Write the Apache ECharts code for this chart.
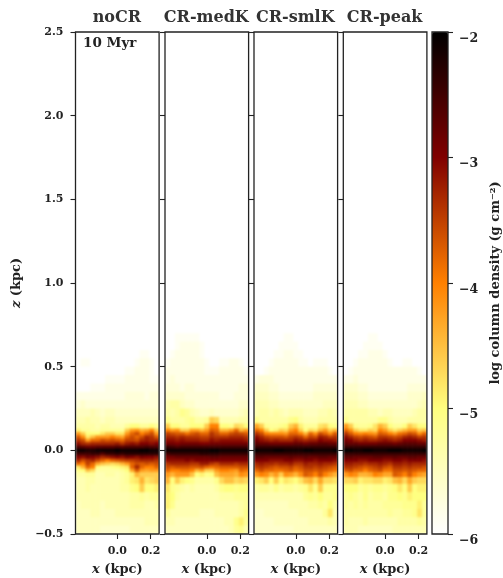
<!DOCTYPE html>
<html><head><meta charset="utf-8">
<style>html,body{margin:0;padding:0;background:#fff}#c{width:503px;height:578px}</style>
<script src="https://cdn.jsdelivr.net/npm/echarts@6/dist/echarts.min.js"></script>
</head><body><div id="c"></div>
<script>
// Column density, stored as -10*log10(Sigma): 60 = -6.0, 20 = -2.0.
// Rows run top-down between successive zEdges; each row has 17 columns across x = -0.25..0.25 kpc.
const panelNames = ['noCR','CR-medK','CR-smlK','CR-peak'];
const zEdges = [0.70,0.65,0.60,0.55,0.50,0.45,0.40,0.35,0.30,0.25,0.20,0.16,0.13,0.11,0.09,0.07,0.05,0.03,0.01,-0.01,-0.03,-0.05,-0.07,-0.09,-0.11,-0.13,-0.16,-0.20,-0.25,-0.30,-0.35,-0.40,-0.45,-0.50];
const yTicks = [-0.5,0,0.5,1,1.5,2,2.5];
const xTicks = [0,0.2];
const cbarTicks = [-6,-5,-4,-3,-2];
const noCR = [
[60,60,60,60,60,60,60,60,60,60,60,60,60,60,60,60,60],
[60,60,60,60,60,60,60,60,60,60,60,60,60,60,60,60,60],
[60,60,60,60,60,60,60,60,60,60,60,60,60,59,59,60,60],
[60,59,59,60,60,60,60,60,60,60,60,60,59,58,58,59,60],
[60,60,60,60,60,60,60,60,60,60,59,59,58,58,58,59,60],
[60,60,60,60,60,60,59,59,59,59,58,58,58,58,58,59,59],
[60,60,60,59,59,59,58,58,58,58,58,58,58,58,58,58,58],
[58,58,58,58,58,58,58,58,58,58,57,57,57,57,58,57,57],
[57,56,57,57,57,57,57,57,57,57,57,57,57,57,57,57,57],
[55,55,55,54,55,56,55,55,56,56,56,56,56,56,56,56,56],
[54,54,53,54,54,55,54,54,55,55,55,55,55,55,55,55,55],
[53,53,53,53,54,53,53,54,54,54,52,50,50,52,52,50,52],
[49,52,52,53,53,52,52,52,52,52,46,42,41,44,43,40,46],
[42,46,50,50,50,48,46,46,48,48,42,38,36,40,38,36,42],
[37,41,48,45,42,42,42,40,42,43,38,36,38,36,33,34,37],
[34,36,42,38,38,36,37,36,37,38,35,35,36,33,32,33,33],
[31,33,34,33,33,33,33,33,32,34,32,31,32,30,30,31,30],
[26,27,28,28,27,27,27,27,26,27,26,26,26,26,25,26,26],
[21,21,22,22,21,21,21,21,20,21,21,21,21,20,20,21,21],
[25,25,25,24,24,26,24,24,23,24,23,23,23,23,23,23,23],
[30,31,29,30,31,33,32,31,30,31,29,30,31,29,30,30,31],
[33,36,34,33,36,38,40,38,37,36,35,35,34,33,33,33,34],
[38,40,35,38,43,45,46,47,46,44,42,38,36,37,36,37,36],
[48,44,38,40,50,52,52,51,50,49,48,38,33,38,40,40,38],
[51,50,45,47,53,53,53,53,53,52,50,43,37,42,43,42,42],
[53,53,52,52,54,54,53,53,54,53,52,49,44,46,46,46,46],
[54,54,53,53,54,54,54,54,54,53,52,49,48,44,48,47,46],
[54,54,53,54,54,54,54,54,54,53,53,51,50,46,50,50,49],
[54,54,54,54,54,54,54,54,54,54,54,53,53,52,53,52,52],
[55,54,54,54,54,55,54,54,54,54,54,53,53,53,54,54,53],
[55,55,55,54,54,55,55,55,54,54,54,54,54,54,54,54,54],
[55,55,55,55,55,55,55,55,55,55,55,55,55,55,54,54,54],
[55,55,55,55,55,56,56,56,56,56,56,55,55,55,55,55,55]];
const medK = [
[60,60,59,59,59,59,59,60,60,60,60,60,60,60,60,60,60],
[60,60,59,58,58,58,58,59,60,60,60,60,60,60,60,60,60],
[60,59,58,58,58,58,58,59,60,60,60,60,60,60,60,60,60],
[59,58,58,58,58,58,58,58,59,60,60,59,59,58,58,59,60],
[58,58,58,58,58,58,58,58,59,59,59,58,58,58,58,58,59],
[58,57,58,58,58,58,58,58,58,58,58,58,58,58,58,58,58],
[57,57,57,58,57,57,58,58,58,58,58,58,58,58,58,57,57],
[56,56,56,56,57,57,57,57,57,57,57,58,58,58,57,57,57],
[54,53,53,55,56,56,57,57,57,57,57,57,57,57,57,56,56],
[53,54,53,51,52,54,55,56,56,55,56,56,56,56,56,55,54],
[51,53,53,53,52,51,53,53,52,46,47,54,54,54,54,53,53],
[46,50,50,52,52,50,50,50,46,40,40,50,50,51,47,48,50],
[40,42,41,46,46,42,42,44,42,37,38,44,44,42,38,44,42],
[35,36,37,37,39,37,36,38,38,34,36,38,38,36,35,36,37],
[33,33,34,33,34,34,34,35,35,33,34,34,34,33,33,33,34],
[31,31,32,31,32,32,32,33,33,31,32,31,31,31,31,31,32],
[29,29,30,29,29,29,29,30,30,29,29,29,29,29,29,29,29],
[24,25,26,25,25,25,25,25,25,25,25,25,25,25,25,25,25],
[21,21,21,21,21,21,21,21,21,20,20,21,21,21,21,21,21],
[25,24,24,24,24,24,24,23,23,23,23,24,24,24,24,24,24],
[29,29,28,28,28,28,28,28,28,27,27,28,28,28,28,28,28],
[31,31,31,31,30,31,30,30,30,30,30,30,30,30,30,30,30],
[34,33,33,33,33,34,34,32,32,34,35,33,33,33,34,33,33],
[36,37,36,36,36,37,37,36,38,39,38,37,37,37,37,36,36],
[38,40,40,39,39,40,44,42,46,46,42,40,40,41,42,38,39],
[42,44,42,42,42,45,50,49,51,50,45,43,43,43,44,41,42],
[44,50,46,49,50,51,53,53,53,53,51,47,45,45,47,46,47],
[48,51,52,53,54,53,54,54,54,54,53,51,50,50,51,50,50],
[49,50,53,54,54,54,54,54,54,54,54,53,53,53,52,52,52],
[49,51,54,54,54,54,54,54,54,54,54,54,54,54,54,53,52],
[52,54,54,54,54,54,54,55,55,55,54,54,54,54,54,53,51],
[54,54,55,55,55,55,55,55,55,55,55,55,54,54,51,49,52],
[55,55,55,55,55,55,55,55,55,55,55,55,55,54,52,51,54]];
const smlK = [
[60,60,60,60,60,60,59,59,60,60,60,60,60,60,60,60,60],
[60,60,60,60,60,59,59,59,59,60,60,60,60,60,60,60,60],
[60,60,60,60,59,59,58,58,59,59,60,60,60,60,60,60,60],
[60,60,60,59,58,58,58,58,58,59,59,60,59,59,59,60,60],
[60,60,59,58,58,58,58,58,58,58,58,58,58,58,58,59,60],
[58,57,57,57,58,58,58,58,58,58,58,58,58,58,58,58,58],
[56,56,56,57,57,58,58,58,58,58,58,58,57,57,57,57,57],
[55,55,55,56,56,57,57,57,57,57,57,57,56,56,56,56,56],
[54,54,54,55,55,56,56,56,56,56,56,56,56,56,55,55,55],
[54,53,53,54,53,54,55,54,54,54,55,55,55,54,54,53,54],
[51,53,53,53,53,53,53,51,50,53,54,54,54,53,53,53,53],
[43,46,51,52,52,51,50,46,44,49,52,52,52,48,47,50,51],
[38,40,46,50,49,46,47,42,40,46,50,47,48,44,42,46,44],
[34,36,40,41,41,41,42,38,38,40,44,38,41,36,38,41,37],
[31,33,35,36,36,36,37,35,34,35,38,35,36,32,33,35,34],
[29,31,32,33,32,33,33,33,31,32,33,32,32,30,31,31,32],
[27,28,28,29,29,29,29,29,28,28,29,28,28,27,27,28,28],
[24,24,24,24,24,24,24,24,24,24,24,24,24,24,24,24,24],
[20,21,21,21,20,20,21,21,21,21,20,20,21,21,21,21,20],
[24,24,24,24,24,24,24,24,24,24,24,24,24,24,24,24,24],
[27,27,28,28,28,28,28,27,28,28,27,28,28,27,27,28,28],
[30,30,30,31,31,31,30,30,31,31,30,30,31,30,30,30,31],
[33,32,33,33,34,33,33,32,34,34,32,33,33,32,33,33,34],
[35,34,35,36,37,36,36,35,37,36,34,34,35,34,35,36,37],
[38,36,38,38,39,39,38,37,39,38,36,36,37,36,37,38,39],
[42,40,41,44,42,46,41,42,44,41,37,38,40,37,40,42,44],
[49,48,46,50,46,50,48,49,50,48,45,44,47,43,47,47,48],
[53,52,52,53,51,53,52,52,53,52,51,48,51,46,51,51,51],
[54,54,54,54,54,54,54,54,54,54,52,51,52,50,52,52,51],
[55,55,55,55,55,55,55,54,54,54,54,53,53,52,53,50,53],
[56,56,55,55,55,55,55,55,55,54,54,54,54,54,52,48,54],
[56,56,56,56,55,55,55,55,55,55,55,54,54,54,54,53,54],
[56,56,56,56,56,56,56,56,55,55,55,55,55,55,55,55,55]];
const peak = [
[60,60,60,60,60,59,59,60,60,60,60,60,60,60,60,60,60],
[60,60,60,60,59,59,59,59,60,60,60,60,60,60,60,60,60],
[60,60,60,59,59,58,58,58,59,60,60,60,60,60,60,60,60],
[60,60,59,58,58,58,58,58,58,59,60,60,59,59,60,60,60],
[60,59,58,58,58,58,58,58,58,58,58,58,58,58,58,59,60],
[58,58,57,58,58,58,58,58,58,58,58,58,58,58,58,58,58],
[56,56,56,57,57,58,58,58,58,58,58,58,58,57,57,57,57],
[55,55,55,56,56,57,57,57,57,57,57,57,57,56,56,56,55],
[54,54,54,55,55,56,56,56,56,56,56,56,56,56,56,55,54],
[53,53,53,53,53,54,54,55,54,54,55,55,55,55,54,53,53],
[51,53,53,53,53,53,53,51,51,53,54,54,54,53,53,53,53],
[42,46,51,52,52,51,48,44,46,50,52,52,50,46,48,50,50],
[38,41,46,48,48,46,47,40,42,46,48,46,44,42,42,46,45],
[34,37,40,41,40,41,42,37,38,40,42,39,38,36,37,41,38],
[31,33,35,36,35,36,37,34,34,35,36,35,33,32,33,35,34],
[29,30,32,33,32,33,33,32,31,32,33,32,30,30,30,31,32],
[27,28,28,29,29,29,29,28,28,28,29,28,27,27,27,28,28],
[24,24,24,24,24,24,24,24,24,24,24,24,24,24,24,24,24],
[20,20,21,21,20,20,21,21,21,20,20,20,21,21,21,21,20],
[24,24,24,24,24,24,24,24,24,24,24,24,24,24,24,24,24],
[27,27,28,28,28,28,27,27,28,28,27,28,28,27,27,28,28],
[30,30,30,31,31,30,30,30,31,31,30,30,31,30,30,30,31],
[32,32,33,33,34,33,33,32,33,34,32,32,33,32,33,33,33],
[34,34,35,36,37,36,35,34,36,37,34,34,35,34,35,35,36],
[37,36,38,38,40,38,37,36,39,39,36,36,37,36,37,38,38],
[42,40,41,44,44,43,40,41,43,43,37,38,40,37,40,42,43],
[47,47,46,49,48,48,47,47,49,48,45,44,47,43,46,47,47],
[50,50,50,52,51,52,51,51,52,51,50,48,50,46,50,49,49],
[52,51,52,53,51,53,52,52,53,51,51,50,51,49,50,50,50],
[52,53,52,53,52,53,53,53,52,52,52,52,51,51,51,49,52],
[53,53,53,53,53,53,53,53,53,52,53,53,52,52,51,48,52],
[53,54,54,54,53,54,54,54,54,54,54,53,53,53,53,52,53],
[54,54,54,55,55,55,55,55,55,55,54,54,54,54,54,54,54]];
const panelData = [noCR, medK, smlK, peak];

const XMIN = -0.25, XMAX = 0.25;
const lefts = [75.5, 165, 254, 343.3], gridTop = 32, w = 83.6, h = 502;
const ink = '#222', serif = '"DejaVu Serif", serif';
const tickFont = {fontFamily: serif, fontWeight: 'bold', fontSize: 11, color: ink};
const nameFont = {fontFamily: serif, fontWeight: 'bold', fontSize: 13, color: ink};
const labelRich = {i: {fontFamily: serif, fontWeight: 'bold', fontStyle: 'italic', fontSize: 13, color: ink}};

function cells(rows) {
  const out = [], dx = (XMAX - XMIN) / rows[0].length;
  rows.forEach((row, r) => row.forEach((v, c) => {
    out.push([XMIN + c * dx, XMIN + (c + 1) * dx, zEdges[r + 1], zEdges[r], -v / 10]);
  }));
  return out;
}
function renderCell(params, api) {
  const a = api.coord([api.value(0), api.value(3)]);
  const b = api.coord([api.value(1), api.value(2)]);
  return {type: 'rect', shape: {x: a[0], y: a[1], width: b[0] - a[0] + 0.6, height: b[1] - a[1] + 0.6},
          style: {fill: api.visual('color')}};
}

const grid = lefts.map(l => ({left: l, top: gridTop, width: w, height: h, show: true, zlevel: 1, z: 6, outerBoundsMode: 'none',
  backgroundColor: 'transparent', borderColor: ink, borderWidth: 1.3}));
grid.push({left: 432, top: gridTop, width: 16, height: h, show: true, zlevel: 1, z: 6, outerBoundsMode: 'none',
  backgroundColor: 'transparent', borderColor: ink, borderWidth: 1.3});

const xAxis = lefts.map((l, i) => ({
  type: 'value', gridIndex: i, min: XMIN, max: XMAX, zlevel: 1, z: 6,
  splitLine: {show: false},
  axisLine: {show: false, onZero: false},
  axisTick: {show: true, length: 5, customValues: xTicks, lineStyle: {color: ink, width: 1.1}},
  axisLabel: {show: true, customValues: xTicks, margin: 12, formatter: v => v.toFixed(1), ...tickFont},
  name: '{i|x} (kpc)', nameLocation: 'middle', nameGap: 29,
  nameTextStyle: {...nameFont, rich: labelRich}
}));
xAxis.push({type: 'value', gridIndex: 4, min: 0, max: 1, show: false});

const yAxis = lefts.map((l, i) => ({
  type: 'value', gridIndex: i, min: yTicks[0], max: yTicks[6], interval: 0.5, zlevel: 1, z: 6,
  splitLine: {show: false},
  axisLine: {show: false, onZero: false},
  axisTick: {show: true, length: 5, lineStyle: {color: ink, width: 1.1}},
  axisLabel: {show: i === 0, margin: 12, formatter: v => v.toFixed(1).replace('-', '\u2212'), ...tickFont},
  name: i === 0 ? '{i|z} (kpc)' : '', nameLocation: 'middle', nameGap: 52, nameRotate: 90,
  nameTextStyle: {...nameFont, rich: labelRich}
}));
yAxis.push({
  type: 'value', gridIndex: 4, position: 'right', min: cbarTicks[0], max: cbarTicks[4], interval: 1, zlevel: 1, z: 6,
  splitLine: {show: false}, axisLine: {show: false, onZero: false},
  axisTick: {show: true, length: 5, lineStyle: {color: ink, width: 1.1}},
  axisLabel: {show: true, margin: 11, verticalAlign: 'top', formatter: v => String(v).replace('-', '\u2212'), ...tickFont, fontSize: 12.5},
  name: 'log column density (g cm\u207B\u00B2)', nameLocation: 'middle', nameGap: 41, nameRotate: 90,
  nameTextStyle: {...nameFont}
});

const series = panelData.map((rows, i) => ({
  type: 'custom', xAxisIndex: i, yAxisIndex: i, zlevel: 0, clip: true, silent: true,
  renderItem: renderCell, data: cells(rows),
  encode: {x: [0, 1], y: [2, 3]}, animation: false
}));

const title = lefts.map((l, i) => ({
  text: panelNames[i], left: l + w / 2 - 0.5, top: 10, textAlign: 'center', zlevel: 1, padding: 0,
  textStyle: {fontFamily: serif, fontWeight: 'bold', fontSize: 16, color: '#333'}
}));
title.push({text: '10 Myr', left: 83, top: 36.5, zlevel: 1, padding: 0,
  textStyle: {fontFamily: serif, fontWeight: 'bold', fontSize: 13.5, color: ink}});

// White margins that stop the softened density layer from bleeding outside the panels.
const strips = [[67,24,8.5,518],[159.1,24,5.9,518],[248.6,24,5.4,518],[337.6,24,5.7,518],[426.9,24,5.1,518],[67,534,370,8]];
const graphic = strips.map(s => ({type: 'rect', zlevel: 1, z: 0, silent: true,
  shape: {x: s[0], y: s[1], width: s[2], height: s[3]}, style: {fill: '#fff'}}));

const chart = echarts.init(document.getElementById('c'), null, {renderer: 'canvas', width: 503, height: 578});
chart.setOption({
  animation: false, backgroundColor: '#fff',
  title, grid, xAxis, yAxis, series, graphic,
  visualMap: {
    type: 'continuous', min: cbarTicks[0], max: cbarTicks[4], dimension: 4, seriesIndex: [0, 1, 2, 3],
    left: 432, top: gridTop, itemWidth: 16, itemHeight: h, padding: 0, calculable: false, hoverLink: false,
    showLabel: false, text: null, zlevel: 1, z: 4,
    inRange: {color: ['#ffffff', '#ffff80', '#ff8000', '#800000', '#000000']}
  }
});
const cv = document.querySelectorAll('#c canvas');
if (cv[0]) cv[0].style.filter = 'blur(1px)';
if (cv[1]) cv[1].style.filter = 'blur(0.3px)';
</script></body></html>
